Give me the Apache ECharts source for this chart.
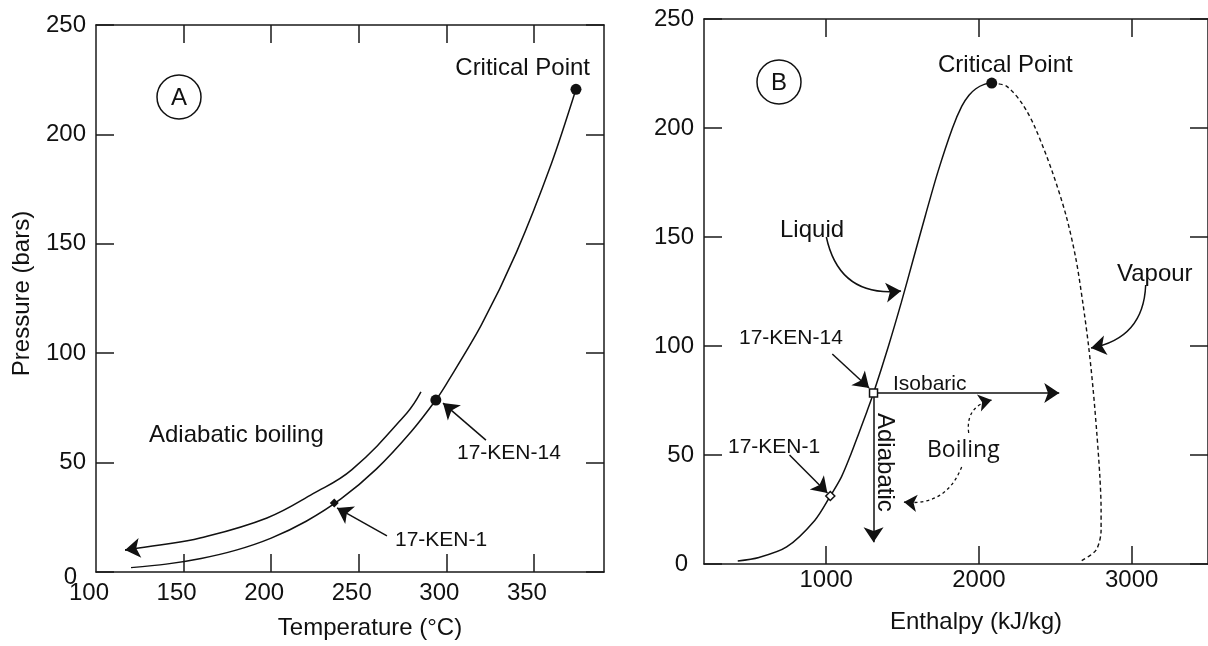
<!DOCTYPE html>
<html>
<head>
<meta charset="utf-8">
<script src="https://cdn.jsdelivr.net/npm/echarts@6/dist/echarts.min.js"></script>
<style>
  html, body { margin: 0; padding: 0; background: #fff; }
</style>
</head>
<body>

<div id="main" style="width: 1208px;height:646px;"></div>

<script type="text/javascript">
    // ---- panel A : saturation curve, temperature vs pressure ----
    var satTemp = [120, 140, 160, 180, 200, 220, 240, 260, 280, 294, 300, 320, 340, 360, 374];
    var satPres = [2.0, 3.6, 6.2, 10.0, 15.5, 23.2, 33.5, 47.0, 64.2, 78.6, 85.9, 112.9, 146.1, 186.7, 220.6];

    // adiabatic boiling path (arrow drawn above the curve, ends at the left)
    var boilTemp = [285.5, 277.5, 246.1, 223.9, 197.6, 159.4, 136.5, 116.6];
    var boilPres = [82.3, 72.7, 46.8, 35.8, 24.7, 15.5, 12.3, 10.1];

    var critA = [374, 220.6];
    var sampleTemp = [236, 294];          // 17-KEN-1, 17-KEN-14
    var samplePres = [31.5, 78.6];

    // pointer arrows [from, to]
    var ptrA14 = [[322.6, 60.3], [298.1, 77.2]];
    var ptrA1 = [[266.1, 16.5], [237.6, 29.3]];

    // ---- panel B : enthalpy vs pressure ----
    var liqEnth = [421, 560, 741, 925, 1027, 1100, 1160, 1214, 1267, 1310, 1408, 1492, 1571, 1650, 1732, 1827, 1888, 1935, 1980, 2035, 2084];
    var liqPres = [1.4, 3, 7.8, 20, 31.2, 40, 50, 60, 70, 78.4, 100, 120, 140, 160, 180, 200, 210, 215, 218, 220, 220.6];

    var vapEnth = [2084, 2180, 2285, 2369, 2480, 2570, 2635, 2680, 2718, 2748, 2772, 2792, 2800, 2800, 2767, 2669];
    var vapPres = [220.6, 219.2, 211, 200, 180, 160, 140, 120, 100, 80, 60, 40, 25, 15.6, 6.4, 1.4];

    var critB = [2084, 220.6];
    var sampleEnth = [1027, 1310];        // 17-KEN-1, 17-KEN-14
    var samplePresB = [31.2, 78.4];

    var isobaric = [[1310, 78.4], [2526, 78.4]];
    var adiabatic = [[1310, 78.4], [1310, 10]];
    var ptrB14 = [[1040, 96.3], [1281, 80.7]];
    var ptrB1 = [[760, 50], [1008, 32.6]];

    // curved label arrows [from, to], bent with curveness
    var liqArrow = [[1001, 150], [1490, 125.2]];
    var vapArrow = [[3092, 128], [2734, 99.1]];
    var boilUp = [[1933, 60.1], [2083, 75.2]];
    var boilDown = [[1887, 44.5], [1509, 28.4]];

    var ticksA = [150, 200, 250, 300, 350];
    var labelsA = [100, 150, 200, 250, 300, 350];
    var ticksB = [1000, 2000, 3000];

    function zip(xs, ys) {
        return xs.map(function (x, i) { return [x, ys[i]]; });
    }
    // short piece at the end of a path, carries the arrow head
    function endPiece(xs, ys) {
        var n = xs.length;
        var t = 0.8;
        return [[xs[n - 2] + (xs[n - 1] - xs[n - 2]) * t, ys[n - 2] + (ys[n - 1] - ys[n - 2]) * t],
                [xs[n - 1], ys[n - 1]]];
    }

    var FONT = 'Liberation Sans, Arial, sans-serif';
    var INK = '#111';
    var lineCol = '#1a1a1a';

    var axisLine = { show: true, onZero: false, lineStyle: { color: lineCol, width: 1.5 } };
    var tickStyle = { color: lineCol, width: 1.5 };

    function xAx(grid, pos, min, max, ticks, labels, extra) {
        var a = {
            type: 'value', gridIndex: grid, position: pos, min: min, max: max,
            axisLine: axisLine,
            axisTick: { show: true, inside: true, length: 18, lineStyle: tickStyle, customValues: ticks },
            axisLabel: labels ? {
                show: true, customValues: labels, fontSize: 24, fontFamily: FONT, color: INK,
                formatter: function (v) { return String(v); }
            } : { show: false },
            splitLine: { show: false }
        };
        return Object.assign(a, extra || {});
    }

    // zero label shifted by a rich-text padding
    function yAx(grid, pos, showLabel, zeroPad, extra) {
        var a = {
            type: 'value', gridIndex: grid, position: pos, min: 0, max: 250, interval: 50,
            axisLine: axisLine,
            axisTick: { show: true, inside: true, length: 18, lineStyle: tickStyle },
            axisLabel: showLabel ? {
                show: true, fontSize: 24, fontFamily: FONT, color: INK, margin: 10,
                formatter: function (v) { return v === 0 ? '{z|0}' : String(v); },
                rich: { z: { fontSize: 24, fontFamily: FONT, color: INK, padding: zeroPad } }
            } : { show: false },
            splitLine: { show: false }
        };
        return Object.assign(a, extra || {});
    }

    var myChart = echarts.init(document.getElementById('main'));

    var arrowLine = { color: INK, width: 1.5, opacity: 1, curveness: 0 };

    var option = {
        animation: false,
        backgroundColor: '#fff',
        grid: [
            { left: 96, top: 25, width: 508, height: 547 },
            { left: 704, top: 19, width: 507, height: 545 }
        ],
        xAxis: [
            xAx(0, 'bottom', 100, 390, ticksA, labelsA, {
                name: 'Temperature (°C)', nameLocation: 'middle', nameGap: 44,
                nameTextStyle: { fontSize: 24, fontFamily: FONT, color: INK, padding: [0, 0, 0, 40] }
            }),
            xAx(0, 'top', 100, 390, ticksA, null),
            xAx(1, 'bottom', 200, 3500, ticksB, ticksB, {
                name: 'Enthalpy (kJ/kg)', nameLocation: 'middle', nameGap: 46,
                nameTextStyle: { fontSize: 24, fontFamily: FONT, color: INK, padding: [0, 0, 0, 40] }
            }),
            xAx(1, 'top', 200, 3500, ticksB, null)
        ],
        yAxis: [
            yAx(0, 'left', true, [10, 9, 0, 0], {
                name: 'Pressure (bars)', nameLocation: 'middle', nameGap: 62,
                nameTextStyle: { fontSize: 24, fontFamily: FONT, color: INK, padding: [0, 0, 0, 10] }
            }),
            yAx(0, 'right', false),
            yAx(1, 'left', true, [0, 6, 0, 0]),
            yAx(1, 'right', false)
        ],
        series: [
            // panel A
            {
                type: 'line', xAxisIndex: 0, yAxisIndex: 0, smooth: 0.3,
                showSymbol: false, lineStyle: { color: INK, width: 1.5 },
                data: zip(satTemp, satPres)
            },
            {
                type: 'line', xAxisIndex: 0, yAxisIndex: 0, smooth: 0.4,
                showSymbol: false, lineStyle: { color: INK, width: 1.5 },
                data: zip(boilTemp, boilPres)
            },
            {
                type: 'scatter', xAxisIndex: 0, yAxisIndex: 0, z: 5,
                itemStyle: { color: INK, opacity: 1 },
                data: [
                    { value: critA, symbol: 'circle', symbolSize: 11 },
                    { value: [sampleTemp[1], samplePres[1]], symbol: 'circle', symbolSize: 11 },
                    { value: [sampleTemp[0], samplePres[0]], symbol: 'diamond', symbolSize: 9 }
                ]
            },
            {
                type: 'lines', coordinateSystem: 'cartesian2d', xAxisIndex: 0, yAxisIndex: 0,
                symbol: ['none', 'arrow'], symbolSize: 15, lineStyle: arrowLine,
                data: [{ coords: ptrA14 }, { coords: ptrA1 }, { coords: endPiece(boilTemp, boilPres) }]
            },
            // panel B
            {
                type: 'line', xAxisIndex: 2, yAxisIndex: 2, smooth: 0.3,
                showSymbol: false, lineStyle: { color: INK, width: 1.5 },
                data: zip(liqEnth, liqPres)
            },
            {
                type: 'line', xAxisIndex: 2, yAxisIndex: 2, smooth: 0.3,
                showSymbol: false, lineStyle: { color: INK, width: 1.4, type: [4, 3] },
                data: zip(vapEnth, vapPres)
            },
            {
                type: 'lines', coordinateSystem: 'cartesian2d', xAxisIndex: 2, yAxisIndex: 2,
                symbol: ['none', 'arrow'], symbolSize: 15, lineStyle: arrowLine,
                data: [{ coords: isobaric }, { coords: adiabatic }, { coords: ptrB14 }, { coords: ptrB1 }]
            },
            {
                type: 'lines', coordinateSystem: 'cartesian2d', xAxisIndex: 2, yAxisIndex: 2,
                symbol: ['none', 'arrow'], symbolSize: 15,
                lineStyle: { color: INK, width: 1.5, opacity: 1 },
                data: [
                    { coords: liqArrow, lineStyle: { curveness: -0.45 } },
                    { coords: vapArrow, lineStyle: { curveness: 0.4 } }
                ]
            },
            {
                type: 'lines', coordinateSystem: 'cartesian2d', xAxisIndex: 2, yAxisIndex: 2,
                symbol: ['none', 'arrow'], symbolSize: 13,
                lineStyle: { color: INK, width: 1.3, opacity: 1, type: [3, 3] },
                data: [
                    { coords: boilUp, lineStyle: { curveness: 0.45 } },
                    { coords: boilDown, lineStyle: { curveness: 0.38 } }
                ]
            },
            {
                type: 'scatter', xAxisIndex: 2, yAxisIndex: 2, z: 5,
                data: [
                    { value: critB, symbol: 'circle', symbolSize: 11, itemStyle: { color: INK, opacity: 1 } },
                    { value: [sampleEnth[1], samplePresB[1]], symbol: 'rect', symbolSize: 8,
                      itemStyle: { color: '#fff', borderColor: INK, borderWidth: 1.5, opacity: 1 } },
                    { value: [sampleEnth[0], samplePresB[0]], symbol: 'diamond', symbolSize: 9,
                      itemStyle: { color: '#fff', borderColor: INK, borderWidth: 1.5, opacity: 1 } }
                ]
            }
        ],
        // text annotations
        graphic: [
            { type: 'circle', shape: { cx: 179, cy: 97, r: 22 }, style: { fill: 'none', stroke: INK, lineWidth: 1.5 } },
            { type: 'text', x: 179, y: 98, style: { text: 'A', fontSize: 24, fontFamily: FONT, fill: INK, align: 'center', verticalAlign: 'middle' } },
            { type: 'text', x: 590, y: 68, style: { text: 'Critical Point', fontSize: 24, fontFamily: FONT, fill: INK, align: 'right', verticalAlign: 'middle' } },
            { type: 'text', x: 149, y: 435, style: { text: 'Adiabatic boiling', fontSize: 24, fontFamily: FONT, fill: INK, align: 'left', verticalAlign: 'middle' } },
            { type: 'text', x: 457, y: 453, style: { text: '17-KEN-14', fontSize: 21, fontFamily: FONT, fill: INK, align: 'left', verticalAlign: 'middle' } },
            { type: 'text', x: 395, y: 540, style: { text: '17-KEN-1', fontSize: 21, fontFamily: FONT, fill: INK, align: 'left', verticalAlign: 'middle' } },

            { type: 'circle', shape: { cx: 779, cy: 82, r: 22 }, style: { fill: 'none', stroke: INK, lineWidth: 1.5 } },
            { type: 'text', x: 779, y: 83, style: { text: 'B', fontSize: 24, fontFamily: FONT, fill: INK, align: 'center', verticalAlign: 'middle' } },
            { type: 'text', x: 938, y: 65, style: { text: 'Critical Point', fontSize: 24, fontFamily: FONT, fill: INK, align: 'left', verticalAlign: 'middle' } },
            { type: 'text', x: 780, y: 230, style: { text: 'Liquid', fontSize: 24, fontFamily: FONT, fill: INK, align: 'left', verticalAlign: 'middle' } },
            { type: 'text', x: 1117, y: 274, style: { text: 'Vapour', fontSize: 24, fontFamily: FONT, fill: INK, align: 'left', verticalAlign: 'middle' } },
            { type: 'text', x: 739, y: 338, style: { text: '17-KEN-14', fontSize: 21, fontFamily: FONT, fill: INK, align: 'left', verticalAlign: 'middle' } },
            { type: 'text', x: 728, y: 447, style: { text: '17-KEN-1', fontSize: 21, fontFamily: FONT, fill: INK, align: 'left', verticalAlign: 'middle' } },
            { type: 'text', x: 893, y: 384, style: { text: 'Isobaric', fontSize: 21, fontFamily: FONT, fill: INK, align: 'left', verticalAlign: 'middle' } },
            { type: 'text', x: 885, y: 413, rotation: -Math.PI / 2, style: { text: 'Adiabatic', fontSize: 24, fontFamily: FONT, fill: INK, align: 'left', verticalAlign: 'middle' } },
            { type: 'text', x: 927, y: 450, style: { text: 'Boiling', fontSize: 23, fontFamily: 'Open Sans, sans-serif', fill: INK, align: 'left', verticalAlign: 'middle' } }
        ]
    };

    option.xAxis[0].axisLabel.padding = [0, 14, 0, 0];
    option.xAxis[0].axisLabel.margin = 9;
    option.xAxis[2].axisLabel.margin = 4;

    myChart.setOption(option);
</script>

</body>
</html>
